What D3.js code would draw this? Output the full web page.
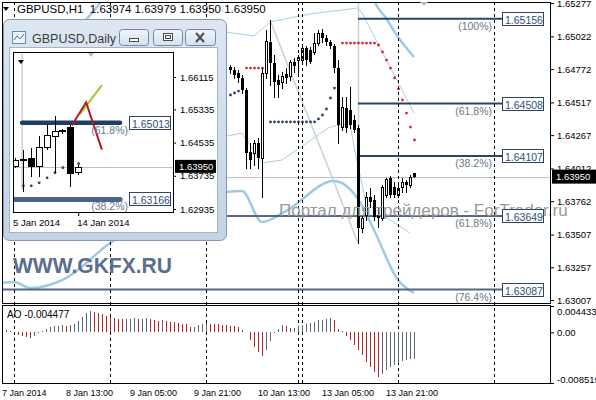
<!DOCTYPE html>
<html>
<head>
<meta charset="utf-8">
<script src="https://cdn.jsdelivr.net/npm/d3@7"></script>
<style>
  body { margin: 0; background: #fff; }
  svg { display: block; }
  text { font-family: "Liberation Sans", Arial, sans-serif; }
</style>
</head>
<body>
<div id="chart"></div>
<script>
// ---------- main GBPUSD H1 data (bar index 0 = "7 Jan 2014" label) ----------
const firstBar = 57;
const candleOpen = [1.64788,1.64765,1.64742,1.64704,1.64612,1.64138,1.64131,1.64207,1.64092,1.64742,
  1.64979,1.64818,1.64689,1.64673,1.64734,1.64719,1.64826,1.64841,1.64841,1.64933,
  1.64918,1.64903,1.64971,1.65048,1.65010,1.64979,1.64948,1.64780,1.64329,1.64475,
  1.64459,1.64383,1.64322,1.63557,1.63657,1.63794,1.63771,1.63657,1.63634,1.63810,
  1.63940,1.63871,1.63810,1.63871,1.63909,1.63886,1.63974];
const candleHigh = [1.64803,1.64788,1.64765,1.64727,1.64627,1.64207,1.64230,1.64245,1.64780,1.65071,
  1.65147,1.64880,1.64727,1.64750,1.64780,1.64841,1.64857,1.64880,1.64948,1.64948,
  1.64941,1.65048,1.65071,1.65078,1.65032,1.64994,1.64964,1.64841,1.64559,1.64559,
  1.64635,1.64421,1.64345,1.63657,1.63833,1.63863,1.63810,1.63718,1.63886,1.63940,
  1.63955,1.63909,1.63886,1.63940,1.63924,1.63962,1.63979];
const candleLow = [1.64742,1.64704,1.64673,1.64589,1.64016,1.64016,1.64039,1.64016,1.63794,1.64704,
  1.64650,1.64559,1.64559,1.64627,1.64666,1.64689,1.64750,1.64742,1.64818,1.64803,
  1.64818,1.64887,1.64956,1.64979,1.64956,1.64933,1.64750,1.64207,1.64306,1.64291,
  1.64322,1.64291,1.63443,1.63527,1.63619,1.63718,1.63619,1.63565,1.63619,1.63794,
  1.63794,1.63794,1.63794,1.63833,1.63833,1.63871,1.63950];
const candleClose = [1.64765,1.64727,1.64704,1.64612,1.64131,1.64077,1.64207,1.64092,1.64742,1.64987,
  1.64818,1.64673,1.64650,1.64719,1.64704,1.64826,1.64796,1.64864,1.64933,1.64841,
  1.64826,1.64971,1.65048,1.65010,1.64979,1.64948,1.64780,1.64345,1.64482,1.64322,
  1.64345,1.64306,1.63557,1.63634,1.63794,1.63756,1.63641,1.63634,1.63871,1.63932,
  1.63810,1.63810,1.63863,1.63909,1.63886,1.63947,1.63950];

// parabolic SAR [bar, price]
const sarBelow = [[57,1.64574],[58,1.64589],[59,1.64604],[60,1.64620],
  [67,1.64368],[68,1.64368],[69,1.64368],[70,1.64368],[71,1.64368],[72,1.64368],[73,1.64368],
  [74,1.64368],[75,1.64368],[76,1.64368],[77,1.64368],[78,1.64368],[79,1.64391],[80,1.64421],
  [81,1.64467],[82,1.64551],[83,1.64627],[84,1.64673]];
const sarAbove = [[61,1.64780],[62,1.64780],[63,1.64780],[64,1.64780],[65,1.64780],[66,1.64780],
  [85,1.64971],[86,1.64971],[87,1.64971],[88,1.64971],[89,1.64971],[90,1.64971],[91,1.64971],
  [92,1.64971],[93,1.64971],[94,1.64956],[95,1.64903],[96,1.64841],[97,1.64780],[98,1.64704],
  [99,1.64620],[100,1.64536],[101,1.64436],[102,1.64329],[103,1.64230]];

// channel lines [bar, price]
const outerLower = [[0,1.63137],[3,1.63145],[7,1.63099],[16,1.63175],[27,1.63443],[56,1.63833],
  [60,1.63840],[65,1.63603],[71,1.63687],[83,1.63917],[89,1.63779],[93,1.63542],[99,1.63160],[103,1.63061]];
const outerUpperA = [[20,1.65117],[25,1.65300],[27,1.65400]];
const outerUpperB = [[92,1.65400],[93,1.65300],[96,1.65162],[99,1.65017],[103,1.64864]];
const innerUpper = [[56,1.65055],[63,1.65025],[67,1.65132],[77,1.65193],[89,1.65239],[90,1.65201],[103,1.64436]];
const innerLower = [[55,1.64253],[60,1.64283],[65,1.64054],[70,1.64077],[79,1.64268],[82,1.64329],
  [87,1.64360],[88,1.64176],[91,1.63748],[97,1.63619],[102,1.63519]];
const trendLine = [[67,1.65147],[89,1.63443]];

// fibonacci levels
const fibValues = [1.65156, 1.64508, 1.64107, 1.63649, 1.63087];
const fibNames = ["(100%)", "(61.8%)", "(38.2%)", "(61.8%)", "(76.4%)"];
const fibFrom = [89, 89, 89, -1, -1];
const fibTo = 125;

// awesome oscillator, one value per bar from bar 0
const aoValues = [0.000505,0.000336,0.000168,-0.000168,-0.000505,-0.000673,-0.000841,-0.001009,-0.000673,-0.000168,
  0.000168,0.000505,0.000841,0.001009,0.001093,0.001177,0.001009,0.001177,0.001346,0.00185,
  0.002523,0.003196,0.003532,0.003364,0.003196,0.003028,0.002691,0.002523,0.002355,0.002271,
  0.002187,0.002237,0.002288,0.002355,0.002187,0.002271,0.002355,0.002187,0.002018,0.00185,
  0.002018,0.00185,0.001766,0.001682,0.001514,0.00143,0.001346,0.000841,0.000925,0.001177,
  0.001346,0.001514,0.001463,0.001396,0.001346,0.001262,0.001177,0.001093,0.001009,0.000841,
  0.000336,0.000084,-0.001346,-0.002523,-0.003364,-0.004037,-0.003028,-0.001514,-0.000084,0.000505,
  0.001177,0.001009,0.000673,0.000757,0.001009,0.001262,0.001346,0.001514,0.001682,0.002018,
  0.002103,0.002187,0.002355,0.002018,0.000505,0.000168,-0.000673,-0.001346,-0.002187,-0.003028,
  -0.003869,-0.005046,-0.005887,-0.006728,-0.007569,-0.007065,-0.006392,-0.005887,-0.005551,-0.005214,
  -0.004878,-0.00471,-0.004542,-0.004477];

// axes
const priceTicks = [1.65277,1.65022,1.64772,1.64517,1.64267,1.64012,1.63762,1.63507,1.63257,1.63007];
const aoTicks = [0.004433, 0, -0.008519];
const aoTickLabels = ["0.004433", "0.00", "-0.008519"];
const timeTicks = [0, 16, 32, 48, 64, 80, 96];
const timeLabels = ["7 Jan 2014","8 Jan 13:00","9 Jan 05:00","9 Jan 21:00","10 Jan 13:00","13 Jan 05:00","13 Jan 21:00"];
const daySeparators = [3, 27, 51, 74, 75, 99, 123];
const lastPrice = 1.63950;

// ---------- inset GBPUSD Daily ----------
const dayOpen  = [1.63977,1.64147,1.64171,1.63977,1.64438,1.64705,1.64850,1.64899,1.63832];
const dayHigh  = [1.64171,1.64365,1.64414,1.64705,1.64971,1.65165,1.64860,1.64947,1.64002];
const dayLow   = [1.63930,1.63347,1.63711,1.63711,1.64365,1.63808,1.64750,1.63468,1.63760];
const dayClose = [1.64123,1.64123,1.63977,1.64438,1.64729,1.64826,1.64840,1.63808,1.63953];
const daySar = [[1,1.63493],[2,1.63493],[3,1.63565],[4,1.63687],[5,1.63808],[6,1.6393],[8,1.64026]];
const dayTicks = [1.66115,1.65335,1.64535,1.63735,1.62935];
const dayFibValues = [1.65013, 1.63166];
const dayFibNames = ["(61.8%)", "(38.2%)"];
const dayFibFrom = [0.9, -0.7];
const dayRed = [[7.2,1.64947],[9.0,1.65505],[11.0,1.64365]];
const dayGreen = [[8.2,1.65214],[11.0,1.65917]];

// ================= drawing =================
const svg = d3.select("#chart").append("svg").attr("width", 596).attr("height", 400);
svg.append("rect").attr("width", 596).attr("height", 400).attr("fill", "#fff");

const x = d3.scaleLinear().domain([0, 137]).range([2, 550]);
const y = d3.scaleLinear().domain([1.63007, 1.65277]).range([300, 3]);
const yAo = d3.scaleLinear().domain([-0.008519, 0.004433]).range([383, 306]);

const defs = svg.append("defs");
defs.append("clipPath").attr("id", "mainClip").append("rect")
  .attr("x", 2).attr("y", 2).attr("width", 548).attr("height", 301);

const main = svg.append("g").attr("clip-path", "url(#mainClip)");

// bid line
main.append("line").attr("x1", 2).attr("x2", 550)
  .attr("y1", Math.round(y(lastPrice)) + 0.5).attr("y2", Math.round(y(lastPrice)) + 0.5)
  .attr("stroke", "#c0c0c0");

// day separators (both panels)
svg.selectAll(".sep").data(daySeparators).enter().append("line")
  .attr("x1", d => x(d) + 0.5).attr("x2", d => x(d) + 0.5)
  .attr("y1", 2).attr("y2", 383)
  .attr("stroke", "#000").attr("stroke-dasharray", "3,3");

const line = d3.line().x(d => x(d[0])).y(d => y(d[1]));

main.append("path").datum(trendLine).attr("d", line)
  .attr("fill", "none").attr("stroke", "#cfcfcf").attr("stroke-width", 1.5);
main.append("line").attr("x1", x(89) + 0.5).attr("x2", x(89) + 0.5)
  .attr("y1", 2).attr("y2", y(fibValues[2]))
  .attr("stroke", "#cfcfcf").attr("stroke-width", 1.5);

[outerLower, outerUpperA, outerUpperB].forEach(s => {
  main.append("path").datum(s).attr("d", line.curve(d3.curveMonotoneX))
    .attr("fill", "none").attr("stroke", "#9dcbe3").attr("stroke-width", 2.5);
});
[innerUpper, innerLower].forEach(s => {
  main.append("path").datum(s).attr("d", line.curve(d3.curveLinear))
    .attr("fill", "none").attr("stroke", "#a9d0e3").attr("stroke-width", 1);
});

// fibonacci lines
fibValues.forEach((v, k) => {
  main.append("line")
    .attr("x1", x(fibFrom[k])).attr("x2", x(fibTo))
    .attr("y1", y(v)).attr("y2", y(v))
    .attr("stroke", k < 3 ? "#2b4468" : "#56677f").attr("stroke-width", 2);
});

// watermark behind the bars
svg.append("text").attr("x", 279).attr("y", 216).attr("font-size", 17)
  .attr("fill", "#999").text("Портал для трейдеров - ForTrader.ru");

// SAR
main.selectAll(".sarB").data(sarBelow).enter().append("circle")
  .attr("cx", d => x(d[0]) + 0.5).attr("cy", d => y(d[1])).attr("r", 1.4).attr("fill", "#2c4060");
main.selectAll(".sarA").data(sarAbove).enter().append("circle")
  .attr("cx", d => x(d[0]) + 0.5).attr("cy", d => y(d[1])).attr("r", 1.4).attr("fill", "#d8262a");

// candles
const candles = candleOpen.map((o, k) => ({
  i: firstBar + k, o: o, h: candleHigh[k], l: candleLow[k], c: candleClose[k]
}));
const cg = main.append("g").attr("shape-rendering", "crispEdges");
cg.selectAll(".wick").data(candles).enter().append("line")
  .attr("x1", d => x(d.i) + 0.5).attr("x2", d => x(d.i) + 0.5)
  .attr("y1", d => Math.round(y(d.h))).attr("y2", d => Math.round(y(d.l)) + 1)
  .attr("stroke", "#000");
cg.selectAll(".body").data(candles).enter().append("rect")
  .attr("x", d => d.c >= d.o ? x(d.i) - 0.5 : x(d.i) - 1)
  .attr("width", d => d.c >= d.o ? 2 : 3)
  .attr("y", d => Math.round(y(Math.max(d.o, d.c))) + (d.c >= d.o ? 0.5 : 0))
  .attr("height", d => Math.max(1, Math.round(y(Math.min(d.o, d.c))) - Math.round(y(Math.max(d.o, d.c)))))
  .attr("fill", d => d.c >= d.o ? "#fff" : "#000")
  .attr("stroke", d => d.c >= d.o ? "#000" : "none");

// fib labels
fibValues.forEach((v, k) => {
  const yy = Math.round(y(v));
  svg.append("rect").attr("x", x(fibTo) + 0.5).attr("y", yy - 6.5)
    .attr("width", 41).attr("height", 13).attr("fill", "#fff").attr("stroke", "#2b4468");
  svg.append("text").attr("x", x(fibTo) + 3).attr("y", yy + 4.5)
    .attr("font-size", 10.5).attr("fill", "#2f4f78").text(v.toFixed(5));
  svg.append("text").attr("x", x(fibTo) - 10).attr("y", yy + 11)
    .attr("text-anchor", "end").attr("font-size", 10.5).attr("fill", "#6a7889").text(fibNames[k]);
});

// AO histogram
const aoG = svg.append("g").attr("shape-rendering", "crispEdges");
aoG.selectAll("line").data(aoValues).enter().append("line")
  .attr("x1", (d, i) => x(i) + 0.5).attr("x2", (d, i) => x(i) + 0.5)
  .attr("y1", yAo(0)).attr("y2", d => yAo(d))
  .attr("stroke", (d, i) => (i === 0 || d < aoValues[i - 1]) ? "#b3262a" : "#5b6675");
svg.append("text").attr("x", 7).attr("y", 318).attr("font-size", 10).attr("fill", "#000")
  .text("AO -0.004477");

// frames
svg.append("rect").attr("x", 2.5).attr("y", 2.5).attr("width", 548).attr("height", 301)
  .attr("fill", "none").attr("stroke", "#000");
svg.append("rect").attr("x", 2.5).attr("y", 305.5).attr("width", 548).attr("height", 78)
  .attr("fill", "none").attr("stroke", "#000");

// price axis
const yAxis = d3.axisRight(y).tickValues(priceTicks).tickSize(3).tickFormat(d3.format(".5f"));
const ya = svg.append("g").attr("transform", "translate(551,0)").call(yAxis);
ya.select(".domain").remove();
ya.selectAll("text").attr("font-size", 9.5).attr("font-family", "Liberation Sans").attr("x", 6).attr("fill", "#000");

// last price tag
svg.append("rect").attr("x", 552).attr("y", y(lastPrice) - 7).attr("width", 44).attr("height", 14).attr("fill", "#000");
svg.append("text").attr("x", 556).attr("y", y(lastPrice) + 3.5).attr("font-size", 9.5)
  .attr("fill", "#fff").text(lastPrice.toFixed(5));

// AO axis
const aoAxis = d3.axisRight(yAo).tickValues(aoTicks).tickSize(3).tickFormat((d, i) => aoTickLabels[i]);
const aa = svg.append("g").attr("transform", "translate(551,0)").call(aoAxis);
aa.select(".domain").remove();
aa.selectAll("text").attr("font-size", 9.5).attr("font-family", "Liberation Sans").attr("x", 6)
  .attr("dy", (d, i) => i === 0 ? "0.9em" : (i === 2 ? "-0.1em" : "0.32em"));

// time axis
svg.selectAll(".tl").data(timeTicks).enter().append("text")
  .attr("x", d => x(d)).attr("y", 396).attr("font-size", 9).attr("fill", "#000")
  .text((d, i) => timeLabels[i]);

// header
svg.append("path").attr("d", "M3,7 L9,7 L6,11 Z").attr("fill", "#000");
svg.append("text").attr("x", 17).attr("y", 13).attr("font-size", 11.5).attr("fill", "#000")
  .attr("xml:space", "preserve")
  .text("GBPUSD,H1  1.63974 1.63979 1.63950 1.63950");
svg.append("path").attr("d", `M${x(104.5)},2 L${x(106.5)},2 L${x(105.5)},6 Z`).attr("fill", "#bdbdbd");

// ================= inset window =================
const inset = svg.append("g");
const grad = defs.append("linearGradient").attr("id", "frameGrad").attr("x1", 0).attr("y1", 0).attr("x2", 0).attr("y2", 1);
grad.append("stop").attr("offset", "0%").attr("stop-color", "#dde7f2");
grad.append("stop").attr("offset", "100%").attr("stop-color", "#c3d3e5");
const bgrad = defs.append("linearGradient").attr("id", "btnGrad").attr("x1", 0).attr("y1", 0).attr("x2", 0).attr("y2", 1);
bgrad.append("stop").attr("offset", "0%").attr("stop-color", "#f2f6fb");
bgrad.append("stop").attr("offset", "100%").attr("stop-color", "#d3dfec");

inset.append("rect").attr("x", 3.5).attr("y", 19.5).attr("width", 223).attr("height", 221).attr("rx", 6)
  .attr("fill", "url(#frameGrad)").attr("stroke", "#8397b0");
inset.append("rect").attr("x", 9.5).attr("y", 47.5).attr("width", 208).attr("height", 185)
  .attr("fill", "#fff").attr("stroke", "#a3b4c8");

// title bar
const icon = inset.append("g");
icon.append("rect").attr("x", 12.5).attr("y", 31.5).attr("width", 13).attr("height", 12).attr("fill", "#eef4fa").attr("stroke", "#6d87a6");
icon.append("path").attr("d", "M14,40 L17,36 L20,39 L24,34").attr("fill", "none").attr("stroke", "#3f74b0").attr("stroke-width", 1);
inset.append("text").attr("x", 32).attr("y", 43).attr("font-size", 12.5)
  .attr("font-family", "Noto Sans").attr("fill", "#3a3a3a").text("GBPUSD,Daily");
[[119, 29], [153, 29], [185, 30]].forEach((b, k) => {
  inset.append("rect").attr("x", b[0] + 0.5).attr("y", 29.5).attr("width", b[1]).attr("height", 16).attr("rx", 3)
    .attr("fill", "url(#btnGrad)").attr("stroke", "#7689a2");
});
inset.append("rect").attr("x", 129.5).attr("y", 38.5).attr("width", 9).attr("height", 3).attr("fill", "#fff").attr("stroke", "#4a4a4a");
inset.append("rect").attr("x", 163.5).attr("y", 33.5).attr("width", 9).attr("height", 7).attr("fill", "#fff").attr("stroke", "#4a4a4a");
inset.append("rect").attr("x", 165.5).attr("y", 35.5).attr("width", 5).attr("height", 3).attr("fill", "none").attr("stroke", "#4a4a4a");
inset.append("path").attr("d", "M196,33 L204,42 M204,33 L196,42").attr("stroke", "#4a4a4a").attr("stroke-width", 2);

// inset chart
const xd = d3.scaleLinear().domain([0, 1]).range([15, 22.9]);
const yd = d3.scaleLinear().domain([1.62935, 1.66115]).range([209, 77]);
defs.append("clipPath").attr("id", "insetClip").append("rect")
  .attr("x", 13).attr("y", 52).attr("width", 160).attr("height", 160);
const ic = inset.append("g").attr("clip-path", "url(#insetClip)");

ic.append("line").attr("x1", 13).attr("x2", 173).attr("y1", Math.round(yd(lastPrice)) + 0.5).attr("y2", Math.round(yd(lastPrice)) + 0.5)
  .attr("stroke", "#c0c0c0");
ic.append("line").attr("x1", xd(0.9)).attr("x2", xd(0.9)).attr("y1", 52).attr("y2", 190)
  .attr("stroke", "#cfcfcf").attr("stroke-width", 1.5);

dayFibValues.forEach((v, k) => {
  ic.append("line").attr("x1", xd(dayFibFrom[k])).attr("x2", xd(13.3))
    .attr("y1", yd(v)).attr("y2", yd(v))
    .attr("stroke", k === 0 ? "#213d62" : "#4c6288").attr("stroke-width", k === 0 ? 4.5 : 5)
    .attr("stroke-linecap", "round");
});

const dline = d3.line().x(d => xd(d[0])).y(d => yd(d[1]));
ic.append("path").datum(dayGreen).attr("d", dline).attr("fill", "none").attr("stroke", "#9acd32").attr("stroke-width", 2);
ic.append("path").datum(dayRed).attr("d", dline).attr("fill", "none").attr("stroke", "#b01e1e").attr("stroke-width", 2);

ic.selectAll(".dsar").data(daySar).enter().append("circle")
  .attr("cx", d => xd(d[0]) + 0.5).attr("cy", d => yd(d[1])).attr("r", 1.4).attr("fill", "#3a3f48");

const days = dayOpen.map((o, k) => ({ k: k, o: o, h: dayHigh[k], l: dayLow[k], c: dayClose[k] }));
const dg = ic.append("g").attr("shape-rendering", "crispEdges");
dg.selectAll(".dw").data(days).enter().append("line")
  .attr("x1", d => Math.round(xd(d.k)) + 0.5).attr("x2", d => Math.round(xd(d.k)) + 0.5)
  .attr("y1", d => Math.round(yd(d.h))).attr("y2", d => Math.round(yd(d.l)))
  .attr("stroke", "#000");
dg.selectAll(".db").data(days).enter().append("rect")
  .attr("x", d => Math.round(xd(d.k)) - 2.5).attr("width", 6)
  .attr("y", d => Math.round(yd(Math.max(d.o, d.c))) + 0.5)
  .attr("height", d => Math.max(1, Math.round(yd(Math.min(d.o, d.c))) - Math.round(yd(Math.max(d.o, d.c)))))
  .attr("fill", d => d.c > d.o ? "#fff" : "#000").attr("stroke", "#000");

ic.append("path").attr("d", "M18,60 L24,60 L21,64 Z").attr("fill", "#000");
ic.append("path").attr("d", "M88,53 L94,53 L91,57 Z").attr("fill", "#bdbdbd");

inset.append("rect").attr("x", 13.5).attr("y", 52.5).attr("width", 160).attr("height", 160)
  .attr("fill", "none").attr("stroke", "#000");

dayFibValues.forEach((v, k) => {
  const yy = Math.round(yd(v));
  inset.append("rect").attr("x", 129.5).attr("y", yy - 6.5).attr("width", 41).attr("height", 13)
    .attr("fill", "#fff").attr("stroke", "#2b4468");
  inset.append("text").attr("x", 132).attr("y", yy + 4.5).attr("font-size", 10.5).attr("fill", "#2f4f78").text(v.toFixed(5));
  inset.append("text").attr("x", 128).attr("y", yy + 11).attr("text-anchor", "end")
    .attr("font-size", 10.5).attr("fill", "#6a7889").text(dayFibNames[k]);
});

const dAxis = d3.axisRight(yd).tickValues(dayTicks).tickSize(3).tickFormat(d3.format(".5f"));
const da = inset.append("g").attr("transform", "translate(173,0)").call(dAxis);
da.select(".domain").remove();
da.selectAll("text").attr("font-size", 9.5).attr("font-family", "Liberation Sans").attr("x", 7);
inset.append("rect").attr("x", 175).attr("y", yd(lastPrice) - 7).attr("width", 41).attr("height", 13).attr("fill", "#000");
inset.append("text").attr("x", 179).attr("y", yd(lastPrice) + 3.5).attr("font-size", 9.5).attr("fill", "#fff").text(lastPrice.toFixed(5));

inset.append("text").attr("x", 13).attr("y", 226).attr("font-size", 9.5).text("5 Jan 2014");
inset.append("line").attr("x1", xd(8) + 0.5).attr("x2", xd(8) + 0.5).attr("y1", 212).attr("y2", 216).attr("stroke", "#000");
inset.append("text").attr("x", xd(8) - 1).attr("y", 226).attr("font-size", 9.5).text("14 Jan 2014");

// watermark
svg.append("text").attr("x", 13).attr("y", 273).attr("font-size", 22).attr("font-weight", "bold")
  .attr("fill", "#5b6e8d").attr("textLength", 159).attr("lengthAdjust", "spacingAndGlyphs").text("WWW.GKFX.RU");
</script>
</body>
</html>
